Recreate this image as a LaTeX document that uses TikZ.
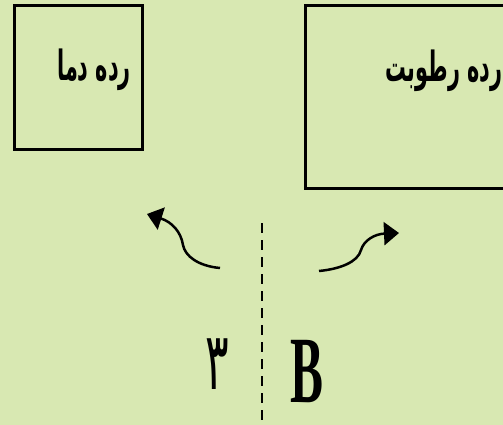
\documentclass[tikz,border=0pt]{standalone}
\usepackage{fontspec}
\usetikzlibrary{arrows.meta}
\TeXXeTstate=1
\newfontfamily\arabicfont[Script=Arabic]{DejaVu Sans}
\setmainfont{Liberation Serif}
\definecolor{bgc}{HTML}{D8E8B2}
\tikzset{
  boxnode/.style={draw=black, line width=3pt, inner sep=0pt},
  curvearrow/.style={line width=2.5pt, -{Triangle[length=15pt,width=23pt]}},
  faname/.style={font=\arabicfont\bfseries\fontsize{32}{36}\selectfont, inner sep=0pt},
}
\begin{document}
\begin{tikzpicture}[x=1pt,y=-1pt]
\clip (0,0) rectangle (503,425);
\fill[bgc] (0,0) rectangle (503,425);
\node[boxnode, minimum width=128pt, minimum height=143pt] (tbox) at (78,77.5) {};
\node[boxnode, minimum width=220pt, minimum height=182pt] (hbox) at (415,97) {};
\node[faname] (ttext) at (94,70) {\scalebox{0.65}[1.3]{\beginR رده دما\endR}};
\node[faname] (htext) at (444,71) {\scalebox{0.65}[1.3]{\beginR رده رطوبت\endR}};
\coordinate (la) at (220,268);
\coordinate (lt) at (147,214);
\coordinate (ra) at (319,271);
\coordinate (rt) at (399,233);
\draw[curvearrow] (la) .. controls (198,266) and (185,256) .. (183,245)
  .. controls (181,232) and (172,222) .. (lt);
\draw[curvearrow] (ra) .. controls (340,269) and (358,262) .. (361,250)
  .. controls (364,240) and (375,234) .. (rt);
\coordinate (dtop) at (262,223);
\coordinate (dbot) at (262,425);
\draw[line width=2.8pt, dash pattern=on 10pt off 7pt] (dtop) -- (dbot);
\node[font=\arabicfont\fontsize{80}{82}\selectfont, inner sep=0pt] (three) at (217,364) {\scalebox{0.55}[1]{\beginR ۳\endR}};
\node[font=\bfseries\fontsize{95}{100}\selectfont, inner sep=0pt] (bl) at (307,372) {\scalebox{0.52}[1]{B}};
\end{tikzpicture}
\end{document}
